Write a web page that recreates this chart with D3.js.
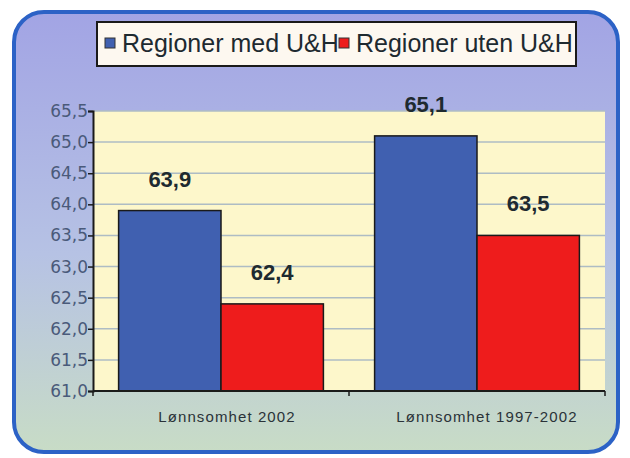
<!DOCTYPE html>
<html>
<head>
<meta charset="utf-8">
<script src="https://cdn.jsdelivr.net/npm/d3@7"></script>
<style>
  body { margin: 0; background: #fff; }
  svg { display: block; }
</style>
</head>
<body>
<div id="chart"></div>
<script>
// data
var categories = ["Lønnsomhet 2002", "Lønnsomhet 1997-2002"];
var seriesNames = ["Regioner med U&H", "Regioner uten U&H"];
var medValues = [63.9, 65.1];
var utenValues = [62.4, 63.5];
var yTicks = [61.0, 61.5, 62.0, 62.5, 63.0, 63.5, 64.0, 64.5, 65.0, 65.5];

var colors = ["#4060b0", "#ee1c1c"];

var W = 630, H = 458;
var margin = {top: 111, right: 25, bottom: 67, left: 93},
    width = W - margin.left - margin.right,
    height = H - margin.top - margin.bottom;

var root = d3.select("#chart").append("svg")
    .attr("width", W)
    .attr("height", H);

// background gradient for outer panel
var defs = root.append("defs");
var grad = defs.append("linearGradient")
    .attr("id", "panelGrad")
    .attr("x1", 0).attr("y1", 0).attr("x2", 0).attr("y2", 1);
grad.append("stop").attr("offset", "0%").attr("stop-color", "#a2a4e4");
grad.append("stop").attr("offset", "55%").attr("stop-color", "#b6c2e4");
grad.append("stop").attr("offset", "100%").attr("stop-color", "#c8dcc6");

root.append("rect")
    .attr("x", 14).attr("y", 12)
    .attr("width", 604).attr("height", 440)
    .attr("rx", 30).attr("ry", 30)
    .style("fill", "url(#panelGrad)")
    .style("stroke", "#2c62c6")
    .style("stroke-width", 4);

var svg = root.append("g")
    .attr("transform", "translate(" + margin.left + "," + margin.top + ")");

// scales
var x0 = d3.scaleBand()
    .domain(categories)
    .range([0, width])
    .paddingInner(0.2)
    .paddingOuter(0.1);

var x1 = d3.scaleBand()
    .domain([0, 1])
    .range([0, x0.bandwidth()]);

var y = d3.scaleLinear()
    .domain([61, 65.5])
    .range([height, 0]);

// plot background
svg.append("rect")
    .attr("width", width)
    .attr("height", height)
    .style("fill", "#fdf7cb");

// gridlines
svg.selectAll("line.grid")
    .data(yTicks.slice(1))
    .enter()
    .append("line")
      .attr("class", "grid")
      .attr("x1", 0).attr("x2", width)
      .attr("y1", function(d) { return y(d); })
      .attr("y2", function(d) { return y(d); })
      .style("stroke", "#aebcc4")
      .style("stroke-width", 1.5);

// bars
var rows = categories.map(function(c, i) { return {cat: c, vals: [medValues[i], utenValues[i]]}; });

var groups = svg.selectAll("g.grp")
    .data(rows)
    .enter()
    .append("g")
      .attr("transform", function(d) { return "translate(" + x0(d.cat) + ",0)"; });

groups.selectAll("rect")
    .data(function(d) { return d.vals.map(function(v, k) { return {k: k, v: v}; }); })
    .enter()
    .append("rect")
      .attr("x", function(d) { return x1(d.k); })
      .attr("y", function(d) { return y(d.v); })
      .attr("width", x1.bandwidth())
      .attr("height", function(d) { return height - y(d.v); })
      .style("fill", function(d) { return colors[d.k]; })
      .style("stroke", "#1a1a1a")
      .style("stroke-width", 1.5);

groups.selectAll("text")
    .data(function(d) { return d.vals.map(function(v, k) { return {k: k, v: v}; }); })
    .enter()
    .append("text")
      .attr("x", function(d) { return x1(d.k) + x1.bandwidth() / 2; })
      .attr("y", function(d) { return y(d.v) - 24; })
      .attr("text-anchor", "middle")
      .style("font-family", "Liberation Sans, Arial, sans-serif")
      .style("font-weight", "bold")
      .style("font-size", "22px")
      .style("fill", "#1e2a30")
      .text(function(d) { return d3.format(".1f")(d.v).replace(".", ","); });

// axes
var yAxis = svg.append("g")
    .call(d3.axisLeft(y).tickValues(yTicks).tickSize(5)
      .tickFormat(function(d) { return d3.format(".1f")(d).replace(".", ","); }));
yAxis.select(".domain").style("stroke", "#1a1a1a").style("stroke-width", 2);
yAxis.selectAll(".tick line").style("stroke", "#1a1a1a").style("stroke-width", 1.5);
yAxis.selectAll("text")
    .attr("x", -5)
    .style("font-family", "DejaVu Sans, Verdana, sans-serif")
    .style("font-size", "17px")
    .style("fill", "#4a5a7a");

var xAxis = svg.append("g")
    .attr("transform", "translate(0," + height + ")");
xAxis.append("line")
    .attr("x1", 0).attr("x2", width)
    .style("stroke", "#1a1a1a").style("stroke-width", 2);
// tick marks between and at ends of categories
var xTickPos = [0, (x0(categories[0]) + x0.bandwidth() + x0(categories[1])) / 2, width];
xAxis.selectAll("line.xt")
    .data(xTickPos)
    .enter()
    .append("line")
      .attr("x1", function(d) { return d; }).attr("x2", function(d) { return d; })
      .attr("y1", 0).attr("y2", 5)
      .style("stroke", "#1a1a1a").style("stroke-width", 1.5);
var labelShift = [6, 10];
xAxis.selectAll("text")
    .data(categories)
    .enter()
    .append("text")
      .attr("x", function(d, i) { return x0(d) + x0.bandwidth() / 2 + labelShift[i]; })
      .attr("y", 31)
      .attr("text-anchor", "middle")
      .style("font-family", "Liberation Sans, Arial, sans-serif")
      .style("font-size", "15px")
      .style("letter-spacing", "1.1px")
      .style("fill", "#2a3238")
      .text(function(d) { return d; });

// legend
var legend = root.append("g").attr("transform", "translate(97,22)");
legend.append("rect")
    .attr("width", 479).attr("height", 44)
    .style("fill", "#fdf8f0")
    .style("stroke", "#1a1a1a")
    .style("stroke-width", 2);
var legX = [8, 242];
seriesNames.forEach(function(n, i) {
  legend.append("rect")
      .attr("x", legX[i]).attr("y", 16)
      .attr("width", 10).attr("height", 10)
      .style("fill", colors[i])
      .style("stroke", "#333").style("stroke-width", 1);
  legend.append("text")
      .attr("x", legX[i] + 17).attr("y", 30)
      .style("font-family", "Liberation Sans, Arial, sans-serif")
      .style("font-size", "25px")
      .style("fill", "#1e2a30")
      .text(n);
});
</script>
</body>
</html>
